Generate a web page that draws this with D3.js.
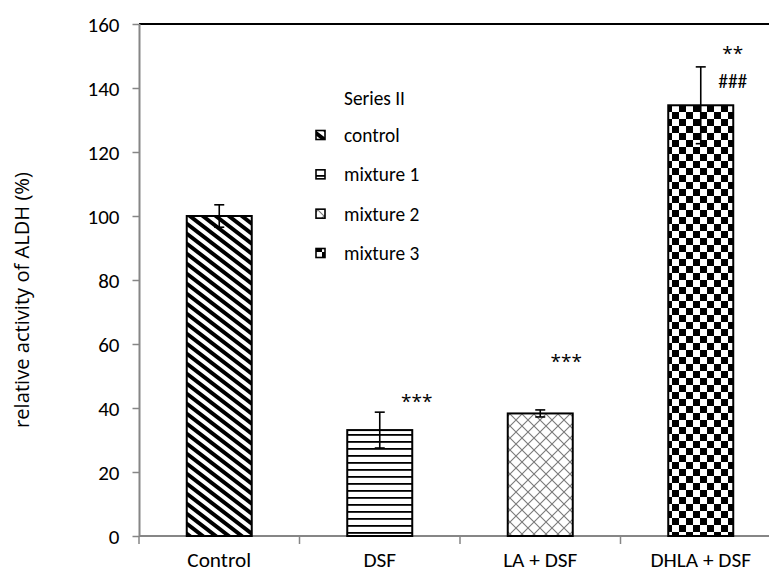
<!DOCTYPE html>
<html><head><meta charset="utf-8">
<script src="https://cdn.jsdelivr.net/npm/d3@7"></script>
<style>
html,body{margin:0;padding:0;background:#fff;}
svg{display:block;}
</style></head>
<body>
<script>
const categories = ["Control", "DSF", "LA + DSF", "DHLA + DSF"];
const values = [100, 33.1, 38.3, 134.6];
const errors = [3.5, 5.6, 1.1, 12];
const legendTitle = "Series II";
const legendLabels = ["control", "mixture 1", "mixture 2", "mixture 3"];
const yTicks = [0, 20, 40, 60, 80, 100, 120, 140, 160];
const yTitle = "relative activity of ALDH (%)";
const annoLabels = ["***", "***", "**", "###"];
const annoCats = ["DSF", "LA + DSF", "DHLA + DSF", "DHLA + DSF"];
const annoValues = [43.4, 55.9, 152.2, 142.2];

const W = 769, H = 572;
const FONT = "Carlito, Lato, 'Open Sans', sans-serif";
const svg = d3.select("body").append("svg").attr("width", W).attr("height", H);

// patterns
const defs = svg.append("defs");
const pats = ["pDiag", "pHoriz", "pCross", "pCheck"];
{
  let p = defs.append("pattern").attr("id", "pDiag").attr("patternUnits", "userSpaceOnUse")
    .attr("width", 13).attr("height", 10);
  p.append("rect").attr("width", 13).attr("height", 10).attr("fill", "#fff");
  p.append("path").attr("d", "M-13,-10L26,20M-13,0L13,20M0,-10L26,10").attr("stroke", "#000").attr("stroke-width", 3.9);

  p = defs.append("pattern").attr("id", "pHoriz").attr("patternUnits", "userSpaceOnUse")
    .attr("width", 10).attr("height", 7);
  p.append("rect").attr("width", 10).attr("height", 7).attr("fill", "#fff");
  p.append("rect").attr("y", 0).attr("width", 10).attr("height", 1.8).attr("fill", "#000");

  p = defs.append("pattern").attr("id", "pCross").attr("patternUnits", "userSpaceOnUse")
    .attr("width", 12).attr("height", 12);
  p.append("rect").attr("width", 12).attr("height", 12).attr("fill", "#fff");
  p.append("path").attr("d", "M0,0L12,12M12,0L0,12").attr("stroke", "#7a7a7a").attr("stroke-width", 1.1);

  p = defs.append("pattern").attr("id", "pCheck").attr("patternUnits", "userSpaceOnUse")
    .attr("width", 14).attr("height", 14);
  p.append("rect").attr("width", 14).attr("height", 14).attr("fill", "#fff");
  p.append("rect").attr("width", 7).attr("height", 7).attr("fill", "#000");
  p.append("rect").attr("x", 7).attr("y", 7).attr("width", 7).attr("height", 7).attr("fill", "#000");
}

const x = d3.scaleBand().domain(categories).range([139, 781]).paddingInner(0.595).paddingOuter(0.2975);
const y = d3.scaleLinear().domain([0, 160]).range([536, 24]);

function fitSize(node, target, base) {
  const s = d3.select(node);
  s.style("font-size", base + "px");
  const w = node.getComputedTextLength();
  const fs = base * target / w;
  s.style("font-size", fs.toFixed(2) + "px");
  return fs;
}

// top border
svg.append("line").attr("x1", 139).attr("x2", W).attr("y1", y(160)).attr("y2", y(160))
  .attr("stroke", "#000").attr("stroke-width", 2);

// y axis
const yAxis = svg.append("g").attr("transform", "translate(139.5,0)")
  .call(d3.axisLeft(y).tickValues(yTicks).tickSize(7).tickPadding(13));
yAxis.select(".domain").attr("stroke", "#868686").attr("stroke-width", 2).attr("d", "M0," + y(0) + "V" + y(160));
yAxis.selectAll(".tick line").attr("stroke", "#868686").attr("stroke-width", 1.5);
const yLabels = yAxis.selectAll(".tick text").attr("font-family", FONT).attr("fill", "#000").attr("dy", "0.36em");
const tickFs = fitSize(yLabels.filter(d => d === 160).node(), 32, 20);
yLabels.style("font-size", tickFs + "px");

// x axis (line with boundary ticks)
const boundaries = categories.map(c => x(c) + x.bandwidth() / 2 - x.step() / 2);
boundaries.push(x(categories[categories.length - 1]) + x.bandwidth() / 2 + x.step() / 2);
const xg = svg.append("g");
xg.append("line").attr("x1", 139).attr("x2", W).attr("y1", y(0)).attr("y2", y(0))
  .attr("stroke", "#868686").attr("stroke-width", 2);
xg.selectAll(".bt").data(boundaries).join("line").attr("class", "bt")
  .attr("x1", d => d).attr("x2", d => d).attr("y1", y(0)).attr("y2", y(0) + 8)
  .attr("stroke", "#868686").attr("stroke-width", 1.5);
const xl = xg.selectAll(".xl").data(categories).join("text").attr("class", "xl")
  .attr("x", d => x(d) + x.bandwidth() / 2).attr("y", 567)
  .attr("text-anchor", "middle").attr("font-family", FONT).attr("fill", "#000").text(d => d);
const xFs = fitSize(xl.filter(d => d === "Control").node(), 64, 20);
xl.style("font-size", xFs + "px");

// y title
const yt = svg.append("text").attr("transform", "translate(29,300) rotate(-90)")
  .attr("text-anchor", "middle").attr("font-family", "'Open Sans', sans-serif").attr("fill", "#000").text(yTitle);
fitSize(yt.node(), 256, 17);

// bars
svg.selectAll(".bar").data(categories).join("rect").attr("class", "bar")
  .attr("x", d => x(d)).attr("width", x.bandwidth())
  .attr("y", (d, i) => y(values[i])).attr("height", (d, i) => y(0) - y(values[i]))
  .attr("fill", (d, i) => "url(#" + pats[i] + ")").attr("stroke", "#000").attr("stroke-width", 2);

// error bars
const eg = svg.append("g").attr("stroke", "#000").attr("stroke-width", 1.6);
categories.forEach((c, i) => {
  const cx = x(c) + x.bandwidth() / 2;
  const hi = y(values[i] + errors[i]), lo = y(values[i] - errors[i]);
  eg.append("line").attr("x1", cx).attr("x2", cx).attr("y1", hi).attr("y2", lo);
  eg.append("line").attr("x1", cx - 5).attr("x2", cx + 5).attr("y1", hi).attr("y2", hi);
  eg.append("line").attr("x1", cx - 5).attr("x2", cx + 5).attr("y1", lo).attr("y2", lo);
});

// annotations
const annoDx = [37, 26, 32, 32];
annoLabels.forEach((t, i) => {
  const isStar = t.indexOf("*") >= 0;
  const tx = svg.append("text")
    .attr("x", x(annoCats[i]) + x.bandwidth() / 2 + annoDx[i])
    .attr("y", y(annoValues[i]))
    .attr("dy", isStar ? "0.57em" : "0.36em")
    .attr("text-anchor", "middle")
    .attr("font-family", isStar ? "'Open Sans', sans-serif" : FONT)
    .attr("fill", "#000").text(t);
  if (isStar) tx.style("font-size", "19px");
  else fitSize(tx.node(), 29, 16);
});

// legend
const lg = svg.append("g");
const lt = lg.append("text").attr("x", 344).attr("y", 98).attr("dy", "0.36em")
  .attr("font-family", FONT).attr("fill", "#000").text(legendTitle);
const legFs = fitSize(lt.node(), 61, 18);
const legY = d3.scaleLinear().domain([0, 3]).range([135, 253]);
legendLabels.forEach((l, i) => {
  lg.append("rect").attr("x", 316).attr("y", legY(i) - 4.5).attr("width", 9).attr("height", 9)
    .attr("fill", "url(#" + pats[i] + ")").attr("stroke", "#000").attr("stroke-width", 1.6);
  lg.append("text").attr("x", 344).attr("y", legY(i)).attr("dy", "0.36em")
    .attr("font-family", FONT).attr("fill", "#000").style("font-size", legFs + "px").text(l);
});
</script>
</body></html>
